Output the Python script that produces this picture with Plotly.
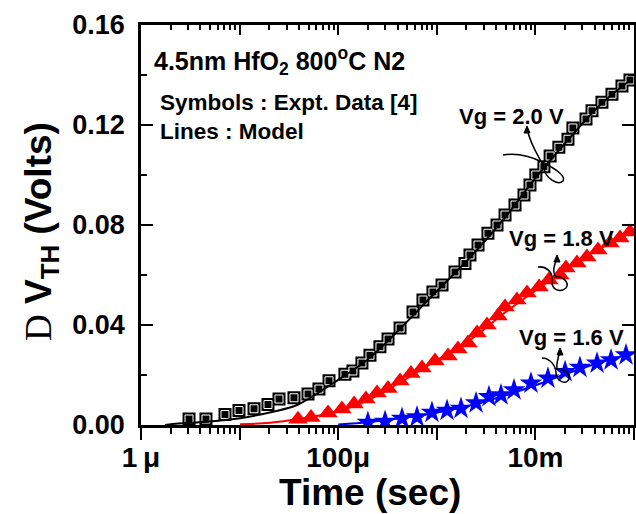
import numpy as np
import plotly.graph_objects as go

# ---------------- data (time in s, dVth in V) ----------------
t_20 = [3.07e-6, 4.56e-6, 7.11e-6, 9.86e-6, 1.40e-5, 1.94e-5, 2.51e-5, 3.56e-5, 4.94e-5, 6.38e-5,
        8.07e-5, 1.17e-4, 1.41e-4, 1.74e-4, 2.10e-4, 2.65e-4, 3.20e-4, 4.24e-4, 5.74e-4, 7.24e-4,
        9.14e-4, 1.13e-3, 1.53e-3, 1.93e-3, 2.17e-3, 2.62e-3, 3.30e-3, 4.08e-3, 4.92e-3, 6.21e-3,
        7.66e-3, 8.81e-3, 1.01e-2, 1.22e-2, 1.41e-2, 1.73e-2, 2.14e-2, 2.40e-2, 3.26e-2, 3.75e-2,
        4.73e-2, 5.98e-2, 7.55e-2, 9.10e-2]
v_20 = [0.0024, 0.0024, 0.0042, 0.0058, 0.0065, 0.0082, 0.0104, 0.0109, 0.0124, 0.0144,
        0.0177, 0.0203, 0.0216, 0.0248, 0.0279, 0.0313, 0.0344, 0.0388, 0.0452, 0.0500,
        0.0532, 0.0560, 0.0612, 0.0646, 0.0680, 0.0720, 0.0767, 0.0800, 0.0840, 0.0880,
        0.0920, 0.0960, 0.1000, 0.1033, 0.1076, 0.1111, 0.1143, 0.1188, 0.1224, 0.1257,
        0.1291, 0.1323, 0.1356, 0.1380]

t_18 = [3.91e-5, 5.30e-5, 7.89e-5, 1.09e-4, 1.45e-4, 1.91e-4, 2.48e-4, 3.20e-4, 4.24e-4, 5.47e-4,
        7.08e-4, 9.59e-4, 1.30e-3, 1.64e-3, 2.07e-3, 2.56e-3, 3.23e-3, 4.18e-3, 4.92e-3, 6.50e-3,
        8.22e-3, 1.09e-2, 1.37e-2, 1.77e-2, 2.04e-2, 2.64e-2, 3.33e-2, 4.31e-2, 5.71e-2, 7.21e-2,
        9.10e-2]
v_18 = [0.0023, 0.0030, 0.0048, 0.0064, 0.0084, 0.0104, 0.0128, 0.0146, 0.0176, 0.0206,
        0.0228, 0.0256, 0.0276, 0.0304, 0.0328, 0.0368, 0.0400, 0.0436, 0.0472, 0.0500,
        0.0528, 0.0552, 0.0580, 0.0600, 0.0628, 0.0648, 0.0672, 0.0700, 0.0728, 0.0748,
        0.0772]

t_16 = [2.00e-4, 2.99e-4, 4.44e-4, 6.30e-4, 8.93e-4, 1.27e-3, 1.76e-3, 2.50e-3, 3.38e-3, 4.48e-3,
        6.07e-3, 9.02e-3, 1.34e-2, 2.00e-2, 2.83e-2, 4.22e-2, 5.85e-2, 8.30e-2]
v_16 = [0.0010, 0.0014, 0.0026, 0.0032, 0.0050, 0.0058, 0.0066, 0.0088, 0.0113, 0.0120,
        0.0140, 0.0167, 0.0187, 0.0213, 0.0230, 0.0247, 0.0260, 0.0280]

# model curves
tm_20 = [1.75e-6, 2.11e-6, 4.67e-6, 1.01e-5, 2.18e-5, 3.82e-5, 8.85e-5, 1.96e-4, 3.95e-4, 9.14e-4,
         2.17e-3, 4.92e-3, 1.01e-2, 2.14e-2, 4.52e-2, 9.55e-2]
vm_20 = [0.0000, 0.0004, 0.0013, 0.0027, 0.0053, 0.0080, 0.0167, 0.0260, 0.0373, 0.0520,
         0.0670, 0.0830, 0.0990, 0.1140, 0.1280, 0.1385]
tm_18 = [1.01e-5, 2.03e-5, 4.10e-5, 8.85e-5, 1.91e-4, 4.24e-4, 9.59e-4, 2.17e-3, 4.92e-3, 1.11e-2,
         2.24e-2, 4.52e-2, 9.77e-2]
vm_18 = [0.0003, 0.0009, 0.0025, 0.0050, 0.0095, 0.0170, 0.0255, 0.0340, 0.0450, 0.0550,
         0.0635, 0.0705, 0.0775]
tm_16 = [1.0e-4, 2.10e-4, 4.24e-4, 9.59e-4, 2.17e-3, 4.92e-3, 1.11e-2, 2.24e-2, 4.52e-2, 9.77e-2]
vm_16 = [0.0002, 0.0012, 0.0027, 0.0048, 0.0078, 0.0118, 0.0165, 0.0210, 0.0250, 0.0288]

x_tickvals = [1e-6, 1e-5, 1e-4, 1e-3, 1e-2, 1e-1]
x_ticktext = ["1\u202fμ", "", "100μ", "", "10m", ""]
y_tickvals = [0.00, 0.04, 0.08, 0.12, 0.16]

# ---------------- figure ----------------
FONT = "Liberation Sans, Arial, sans-serif"
L, T, W, H = 141, 25, 493, 400


def P(x, y):
    return f"{(x - L) / W:.4f},{(T + H - y) / H:.4f}"


fig = go.Figure()

fig.add_trace(go.Scatter(x=t_20, y=v_20, mode="markers",
                         marker=dict(symbol="square", size=13, color="black",
                                     line=dict(color="black", width=0))))
fig.add_trace(go.Scatter(x=t_20, y=v_20, mode="markers",
                         marker=dict(symbol="square-open", size=8, color="white",
                                     line=dict(color="white", width=1))))
fig.add_trace(go.Scatter(x=t_18, y=v_18, mode="markers",
                         marker=dict(symbol="triangle-up", size=17, color="#ff0000",
                                     line=dict(width=0))))
fig.add_trace(go.Scatter(x=t_16, y=v_16, mode="markers",
                         marker=dict(symbol="star", size=17, color="#0000ff",
                                     line=dict(width=0))))

fig.add_trace(go.Scatter(x=tm_20, y=vm_20, mode="lines", line=dict(color="black", width=2, shape="spline")))
fig.add_trace(go.Scatter(x=tm_18, y=vm_18, mode="lines", line=dict(color="#ff0000", width=2, shape="spline")))
fig.add_trace(go.Scatter(x=tm_16, y=vm_16, mode="lines", line=dict(color="#0000ff", width=2, shape="spline")))

minor_x = [m * 10.0 ** e for e in range(-6, -1) for m in range(2, 10)]

axis_common = dict(showline=True, linecolor="black", linewidth=2.5, showgrid=False,
                   zeroline=False, tickcolor="black", tickwidth=2, automargin=False)

fig.update_layout(
    width=636, height=514,
    margin=dict(l=L, r=636 - L - W, t=T, b=514 - T - H, autoexpand=False),
    paper_bgcolor="white", plot_bgcolor="white",
    showlegend=False,
    font=dict(family=FONT, color="black"),
    xaxis=dict(type="log", range=[-6, -1], tickmode="array", tickvals=x_tickvals,
               ticktext=x_ticktext, ticks="outside", ticklen=12,
               tickfont=dict(size=28, family=FONT, weight="bold"),
               ticklabelstandoff=-6,
               minor=dict(tickmode="array", tickvals=minor_x, ticks="outside", ticklen=6,
                          tickwidth=2, tickcolor="black"),
               **axis_common),
    xaxis2=dict(type="log", range=[-6, -1], overlaying="x", side="top", matches="x",
                tickmode="array", tickvals=x_tickvals, showticklabels=False,
                ticks="inside", ticklen=10,
                minor=dict(tickmode="array", tickvals=minor_x, ticks="inside", ticklen=5,
                           tickwidth=2, tickcolor="black"),
                **axis_common),
    yaxis=dict(range=[0, 0.16], tickmode="array", tickvals=y_tickvals, tickformat=".2f",
               ticks="inside", ticklen=12, mirror="ticks",
               tickfont=dict(size=27, family=FONT, weight="bold"),
               ticklabelstandoff=8,
               minor=dict(dtick=0.02, ticks="inside", ticklen=6, tickwidth=2, tickcolor="black"),
               **axis_common),
)

# reference trace so the top axis is drawn
fig.add_trace(go.Scatter(x=tm_20, y=vm_20, xaxis="x2", mode="lines",
                         line=dict(color="rgba(0,0,0,0)", width=0), hoverinfo="skip"))

ann = []
ann.append(dict(text="Time (sec)", x=(370 - L) / W, y=(T + H - 492) / H, xref="paper", yref="paper",
                showarrow=False, font=dict(size=37, family=FONT, weight="bold"),
                xanchor="center", yanchor="middle"))
ann.append(dict(text="<span style='font-family:Liberation Serif;font-weight:normal'>D</span> V<sub>TH</sub> (Volts)",
                x=(41 - L) / W, y=(T + H - 232) / H, xref="paper", yref="paper", textangle=-90,
                showarrow=False, font=dict(size=37, family=FONT, weight="bold"),
                xanchor="center", yanchor="middle"))
ann.append(dict(text="4.5nm HfO<sub>2</sub> 800<sup>o</sup>C N2", x=(152 - L) / W, y=(T + H - 61) / H,
                xref="paper", yref="paper", showarrow=False, xanchor="left", yanchor="middle",
                font=dict(size=25, family=FONT, weight="bold")))
ann.append(dict(text="Symbols : Expt. Data [4]", x=(158 - L) / W, y=(T + H - 103) / H,
                xref="paper", yref="paper", showarrow=False, xanchor="left", yanchor="middle",
                font=dict(size=22.5, family=FONT, weight="bold")))
ann.append(dict(text="Lines : Model", x=(158 - L) / W, y=(T + H - 131) / H,
                xref="paper", yref="paper", showarrow=False, xanchor="left", yanchor="middle",
                font=dict(size=22.5, family=FONT, weight="bold")))
for txt, cx, cy in [("Vg = 2.0 V", 511, 116), ("Vg = 1.8 V", 561, 238), ("Vg = 1.6 V", 571, 337)]:
    ann.append(dict(text=txt, x=(cx - L) / W, y=(T + H - cy) / H, xref="paper", yref="paper",
                    showarrow=False, xanchor="center", yanchor="middle",
                    font=dict(size=22, family=FONT, weight="bold")))
fig.update_layout(annotations=ann)

# hand-drawn pointer squiggles
squiggles = [
    # Vg = 2.0 V
    f"M {P(503,155)} C {P(515,153)} {P(530,156)} {P(542,162)} C {P(556,169)} {P(566,176)} {P(563,181)} "
    f"C {P(558,186)} {P(545,178)} {P(544,168)} C {P(542,160)} {P(532,150)} {P(527,129)}",
    # Vg = 1.8 V
    f"M {P(538,267)} C {P(546,266)} {P(553,272)} {P(552,280)} C {P(551,290)} {P(560,293)} {P(566,288)} "
    f"C {P(570,282)} {P(562,276)} {P(556,277)} C {P(552,272)} {P(554,266)} {P(557,258)}",
    # Vg = 1.6 V
    f"M {P(542,358)} C {P(550,358)} {P(556,366)} {P(556,373)} C {P(557,382)} {P(566,385)} {P(569,379)} "
    f"C {P(571,372)} {P(562,369)} {P(557,369)} C {P(556,364)} {P(558,358)} {P(560,351)}",
]
shapes = [dict(type="path", path=p, xref="paper", yref="paper",
               line=dict(color="black", width=1.5)) for p in squiggles]
for tx, ty in [(527, 126), (557, 255), (560, 348)]:
    shapes.append(dict(type="path", xref="paper", yref="paper",
                       path=f"M {P(tx-3,ty+7)} L {P(tx,ty)} L {P(tx+3,ty+7)} Z",
                       fillcolor="black", line=dict(color="black", width=1)))
fig.update_layout(shapes=shapes)

fig.write_html("out.html", config={"displayModeBar": False},
               post_script="document.body.style.margin='0';document.body.style.padding='0';"
                           "document.body.style.overflow='hidden';")
